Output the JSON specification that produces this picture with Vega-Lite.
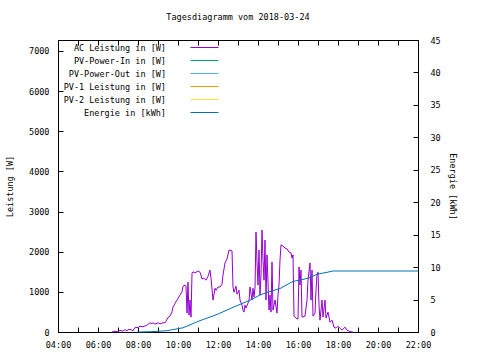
{
  "$schema": "https://vega.github.io/schema/vega-lite/v6.json",
  "width": 360,
  "height": 292,
  "autosize": {"type": "none"},
  "padding": {"left": 58, "top": 40, "right": 62, "bottom": 28},
  "background": "white",
  "title": {"text": "Tagesdiagramm vom 2018-03-24", "font": "DejaVu Sans Mono", "fontSize": 8.5, "fontWeight": "normal", "color": "black", "offset": 15, "anchor": "middle"},
  "config": {
    "view": {"stroke": "black", "strokeWidth": 1},
    "font": "DejaVu Sans Mono",
    "axis": {"labelFont": "DejaVu Sans Mono", "labelFontSize": 8.5, "labelColor": "black", "titleFont": "DejaVu Sans Mono", "titleFontSize": 8.5, "titleFontWeight": "normal", "titleColor": "black", "ticks": true, "tickColor": "black", "tickWidth": 1, "tickOpacity": 1, "domain": false, "grid": false, "tickSize": -5, "labelOverlap": false}
  },
  "datasets": {
    "ac": [
      {"stunde": 6.7, "serie": "AC Leistung in [W]", "wert": 0},
      {"stunde": 6.85, "serie": "AC Leistung in [W]", "wert": 20},
      {"stunde": 7.0, "serie": "AC Leistung in [W]", "wert": 5},
      {"stunde": 7.1, "serie": "AC Leistung in [W]", "wert": 40},
      {"stunde": 7.25, "serie": "AC Leistung in [W]", "wert": 20},
      {"stunde": 7.35, "serie": "AC Leistung in [W]", "wert": 60},
      {"stunde": 7.45, "serie": "AC Leistung in [W]", "wert": 25},
      {"stunde": 7.5, "serie": "AC Leistung in [W]", "wert": 60},
      {"stunde": 7.65, "serie": "AC Leistung in [W]", "wert": 60},
      {"stunde": 7.75, "serie": "AC Leistung in [W]", "wert": 30},
      {"stunde": 7.85, "serie": "AC Leistung in [W]", "wert": 110},
      {"stunde": 8.0, "serie": "AC Leistung in [W]", "wert": 110},
      {"stunde": 8.1, "serie": "AC Leistung in [W]", "wert": 145},
      {"stunde": 8.25, "serie": "AC Leistung in [W]", "wert": 130},
      {"stunde": 8.45, "serie": "AC Leistung in [W]", "wert": 170},
      {"stunde": 8.6, "serie": "AC Leistung in [W]", "wert": 230},
      {"stunde": 8.7, "serie": "AC Leistung in [W]", "wert": 210},
      {"stunde": 8.75, "serie": "AC Leistung in [W]", "wert": 230},
      {"stunde": 8.85, "serie": "AC Leistung in [W]", "wert": 195},
      {"stunde": 9.0, "serie": "AC Leistung in [W]", "wert": 230},
      {"stunde": 9.1, "serie": "AC Leistung in [W]", "wert": 200},
      {"stunde": 9.25, "serie": "AC Leistung in [W]", "wert": 230},
      {"stunde": 9.35, "serie": "AC Leistung in [W]", "wert": 230},
      {"stunde": 9.4, "serie": "AC Leistung in [W]", "wert": 270},
      {"stunde": 9.5, "serie": "AC Leistung in [W]", "wert": 360},
      {"stunde": 9.6, "serie": "AC Leistung in [W]", "wert": 395},
      {"stunde": 9.7, "serie": "AC Leistung in [W]", "wert": 500},
      {"stunde": 9.75, "serie": "AC Leistung in [W]", "wert": 620},
      {"stunde": 9.85, "serie": "AC Leistung in [W]", "wert": 710},
      {"stunde": 9.95, "serie": "AC Leistung in [W]", "wert": 795},
      {"stunde": 10.0, "serie": "AC Leistung in [W]", "wert": 835},
      {"stunde": 10.1, "serie": "AC Leistung in [W]", "wert": 920},
      {"stunde": 10.2, "serie": "AC Leistung in [W]", "wert": 1000},
      {"stunde": 10.25, "serie": "AC Leistung in [W]", "wert": 1140},
      {"stunde": 10.35, "serie": "AC Leistung in [W]", "wert": 1170},
      {"stunde": 10.4, "serie": "AC Leistung in [W]", "wert": 1140},
      {"stunde": 10.45, "serie": "AC Leistung in [W]", "wert": 470},
      {"stunde": 10.5, "serie": "AC Leistung in [W]", "wert": 1240},
      {"stunde": 10.55, "serie": "AC Leistung in [W]", "wert": 420},
      {"stunde": 10.6, "serie": "AC Leistung in [W]", "wert": 795},
      {"stunde": 10.65, "serie": "AC Leistung in [W]", "wert": 370},
      {"stunde": 10.7, "serie": "AC Leistung in [W]", "wert": 1460},
      {"stunde": 10.75, "serie": "AC Leistung in [W]", "wert": 1500},
      {"stunde": 10.85, "serie": "AC Leistung in [W]", "wert": 1470},
      {"stunde": 11.0, "serie": "AC Leistung in [W]", "wert": 1520},
      {"stunde": 11.1, "serie": "AC Leistung in [W]", "wert": 1490},
      {"stunde": 11.2, "serie": "AC Leistung in [W]", "wert": 1320},
      {"stunde": 11.3, "serie": "AC Leistung in [W]", "wert": 1340},
      {"stunde": 11.4, "serie": "AC Leistung in [W]", "wert": 1290},
      {"stunde": 11.5, "serie": "AC Leistung in [W]", "wert": 1390},
      {"stunde": 11.6, "serie": "AC Leistung in [W]", "wert": 1540},
      {"stunde": 11.65, "serie": "AC Leistung in [W]", "wert": 1340},
      {"stunde": 11.75, "serie": "AC Leistung in [W]", "wert": 795},
      {"stunde": 11.85, "serie": "AC Leistung in [W]", "wert": 1090},
      {"stunde": 11.9, "serie": "AC Leistung in [W]", "wert": 1040},
      {"stunde": 12.0, "serie": "AC Leistung in [W]", "wert": 1120},
      {"stunde": 12.1, "serie": "AC Leistung in [W]", "wert": 1120},
      {"stunde": 12.2, "serie": "AC Leistung in [W]", "wert": 1190},
      {"stunde": 12.25, "serie": "AC Leistung in [W]", "wert": 1420},
      {"stunde": 12.35, "serie": "AC Leistung in [W]", "wert": 1720},
      {"stunde": 12.45, "serie": "AC Leistung in [W]", "wert": 1820},
      {"stunde": 12.55, "serie": "AC Leistung in [W]", "wert": 2040},
      {"stunde": 12.7, "serie": "AC Leistung in [W]", "wert": 2020},
      {"stunde": 12.75, "serie": "AC Leistung in [W]", "wert": 1120},
      {"stunde": 12.8, "serie": "AC Leistung in [W]", "wert": 990},
      {"stunde": 12.9, "serie": "AC Leistung in [W]", "wert": 1140},
      {"stunde": 12.95, "serie": "AC Leistung in [W]", "wert": 940},
      {"stunde": 13.05, "serie": "AC Leistung in [W]", "wert": 1040},
      {"stunde": 13.1, "serie": "AC Leistung in [W]", "wert": 795},
      {"stunde": 13.2, "serie": "AC Leistung in [W]", "wert": 670},
      {"stunde": 13.25, "serie": "AC Leistung in [W]", "wert": 545},
      {"stunde": 13.3, "serie": "AC Leistung in [W]", "wert": 495},
      {"stunde": 13.35, "serie": "AC Leistung in [W]", "wert": 670},
      {"stunde": 13.4, "serie": "AC Leistung in [W]", "wert": 595},
      {"stunde": 13.5, "serie": "AC Leistung in [W]", "wert": 720},
      {"stunde": 13.55, "serie": "AC Leistung in [W]", "wert": 770},
      {"stunde": 13.6, "serie": "AC Leistung in [W]", "wert": 1120},
      {"stunde": 13.7, "serie": "AC Leistung in [W]", "wert": 795},
      {"stunde": 13.75, "serie": "AC Leistung in [W]", "wert": 1090},
      {"stunde": 13.8, "serie": "AC Leistung in [W]", "wert": 870},
      {"stunde": 13.85, "serie": "AC Leistung in [W]", "wert": 1090},
      {"stunde": 13.9, "serie": "AC Leistung in [W]", "wert": 2490},
      {"stunde": 13.95, "serie": "AC Leistung in [W]", "wert": 1740},
      {"stunde": 14.0, "serie": "AC Leistung in [W]", "wert": 1170},
      {"stunde": 14.05, "serie": "AC Leistung in [W]", "wert": 2040},
      {"stunde": 14.1, "serie": "AC Leistung in [W]", "wert": 920},
      {"stunde": 14.15, "serie": "AC Leistung in [W]", "wert": 1420},
      {"stunde": 14.2, "serie": "AC Leistung in [W]", "wert": 2540},
      {"stunde": 14.25, "serie": "AC Leistung in [W]", "wert": 1790},
      {"stunde": 14.3, "serie": "AC Leistung in [W]", "wert": 1290},
      {"stunde": 14.35, "serie": "AC Leistung in [W]", "wert": 2290},
      {"stunde": 14.4, "serie": "AC Leistung in [W]", "wert": 795},
      {"stunde": 14.45, "serie": "AC Leistung in [W]", "wert": 1920},
      {"stunde": 14.55, "serie": "AC Leistung in [W]", "wert": 545},
      {"stunde": 14.6, "serie": "AC Leistung in [W]", "wert": 920},
      {"stunde": 14.65, "serie": "AC Leistung in [W]", "wert": 495},
      {"stunde": 14.7, "serie": "AC Leistung in [W]", "wert": 1740},
      {"stunde": 14.75, "serie": "AC Leistung in [W]", "wert": 545},
      {"stunde": 14.85, "serie": "AC Leistung in [W]", "wert": 795},
      {"stunde": 14.95, "serie": "AC Leistung in [W]", "wert": 470},
      {"stunde": 15.0, "serie": "AC Leistung in [W]", "wert": 920},
      {"stunde": 15.05, "serie": "AC Leistung in [W]", "wert": 1170},
      {"stunde": 15.1, "serie": "AC Leistung in [W]", "wert": 1790},
      {"stunde": 15.15, "serie": "AC Leistung in [W]", "wert": 2170},
      {"stunde": 15.25, "serie": "AC Leistung in [W]", "wert": 2140},
      {"stunde": 15.35, "serie": "AC Leistung in [W]", "wert": 2090},
      {"stunde": 15.45, "serie": "AC Leistung in [W]", "wert": 2070},
      {"stunde": 15.55, "serie": "AC Leistung in [W]", "wert": 1990},
      {"stunde": 15.65, "serie": "AC Leistung in [W]", "wert": 1970},
      {"stunde": 15.7, "serie": "AC Leistung in [W]", "wert": 1840},
      {"stunde": 15.75, "serie": "AC Leistung in [W]", "wert": 1920},
      {"stunde": 15.8, "serie": "AC Leistung in [W]", "wert": 395},
      {"stunde": 15.9, "serie": "AC Leistung in [W]", "wert": 345},
      {"stunde": 16.0, "serie": "AC Leistung in [W]", "wert": 320},
      {"stunde": 16.05, "serie": "AC Leistung in [W]", "wert": 1620},
      {"stunde": 16.1, "serie": "AC Leistung in [W]", "wert": 1170},
      {"stunde": 16.15, "serie": "AC Leistung in [W]", "wert": 1540},
      {"stunde": 16.2, "serie": "AC Leistung in [W]", "wert": 370},
      {"stunde": 16.35, "serie": "AC Leistung in [W]", "wert": 395},
      {"stunde": 16.45, "serie": "AC Leistung in [W]", "wert": 795},
      {"stunde": 16.5, "serie": "AC Leistung in [W]", "wert": 1290},
      {"stunde": 16.6, "serie": "AC Leistung in [W]", "wert": 1720},
      {"stunde": 16.65, "serie": "AC Leistung in [W]", "wert": 795},
      {"stunde": 16.7, "serie": "AC Leistung in [W]", "wert": 1540},
      {"stunde": 16.75, "serie": "AC Leistung in [W]", "wert": 395},
      {"stunde": 16.85, "serie": "AC Leistung in [W]", "wert": 470},
      {"stunde": 16.9, "serie": "AC Leistung in [W]", "wert": 1040},
      {"stunde": 16.95, "serie": "AC Leistung in [W]", "wert": 1420},
      {"stunde": 17.0, "serie": "AC Leistung in [W]", "wert": 1490},
      {"stunde": 17.05, "serie": "AC Leistung in [W]", "wert": 670},
      {"stunde": 17.1, "serie": "AC Leistung in [W]", "wert": 295},
      {"stunde": 17.2, "serie": "AC Leistung in [W]", "wert": 795},
      {"stunde": 17.25, "serie": "AC Leistung in [W]", "wert": 370},
      {"stunde": 17.35, "serie": "AC Leistung in [W]", "wert": 795},
      {"stunde": 17.4, "serie": "AC Leistung in [W]", "wert": 345},
      {"stunde": 17.5, "serie": "AC Leistung in [W]", "wert": 495},
      {"stunde": 17.6, "serie": "AC Leistung in [W]", "wert": 245},
      {"stunde": 17.7, "serie": "AC Leistung in [W]", "wert": 295},
      {"stunde": 17.8, "serie": "AC Leistung in [W]", "wert": 120},
      {"stunde": 17.9, "serie": "AC Leistung in [W]", "wert": 95},
      {"stunde": 18.0, "serie": "AC Leistung in [W]", "wert": 145},
      {"stunde": 18.1, "serie": "AC Leistung in [W]", "wert": 95},
      {"stunde": 18.2, "serie": "AC Leistung in [W]", "wert": 45},
      {"stunde": 18.35, "serie": "AC Leistung in [W]", "wert": 120},
      {"stunde": 18.45, "serie": "AC Leistung in [W]", "wert": 45},
      {"stunde": 18.6, "serie": "AC Leistung in [W]", "wert": 10},
      {"stunde": 18.75, "serie": "AC Leistung in [W]", "wert": 0}
    ],
    "energie": [
      {"stunde": 7.95, "serie": "Energie in [kWh]", "wert": 0},
      {"stunde": 8.7, "serie": "Energie in [kWh]", "wert": 0.05},
      {"stunde": 9.45, "serie": "Energie in [kWh]", "wert": 0.2},
      {"stunde": 10.25, "serie": "Energie in [kWh]", "wert": 0.65},
      {"stunde": 11.1, "serie": "Energie in [kWh]", "wert": 1.75},
      {"stunde": 11.95, "serie": "Energie in [kWh]", "wert": 2.7},
      {"stunde": 12.75, "serie": "Energie in [kWh]", "wert": 3.8},
      {"stunde": 13.6, "serie": "Energie in [kWh]", "wert": 4.9},
      {"stunde": 14.1, "serie": "Energie in [kWh]", "wert": 5.7},
      {"stunde": 14.45, "serie": "Energie in [kWh]", "wert": 6.1},
      {"stunde": 15.1, "serie": "Energie in [kWh]", "wert": 6.7},
      {"stunde": 15.75, "serie": "Energie in [kWh]", "wert": 7.8},
      {"stunde": 16.25, "serie": "Energie in [kWh]", "wert": 8.1},
      {"stunde": 16.6, "serie": "Energie in [kWh]", "wert": 8.4},
      {"stunde": 16.95, "serie": "Energie in [kWh]", "wert": 8.9},
      {"stunde": 17.45, "serie": "Energie in [kWh]", "wert": 9.2},
      {"stunde": 17.75, "serie": "Energie in [kWh]", "wert": 9.4},
      {"stunde": 22.0, "serie": "Energie in [kWh]", "wert": 9.4}
    ]
  },
  "layer": [
    {
      "data": {"name": "ac"},
      "mark": {"type": "line", "strokeWidth": 1},
      "encoding": {
        "x": {"field": "stunde", "type": "quantitative",
          "scale": {"domain": [4, 22], "nice": false, "zero": false},
          "axis": {"title": null, "orient": "bottom", "values": [4,5,6,7,8,9,10,11,12,13,14,15,16,17,18,19,20,21,22], "labelPadding": 13, "labelExpr": "datum.value % 2 == 0 ? (datum.value < 10 ? '0' : '') + datum.value + ':00' : ''", "labelOverlap": false, "labelFlush": false}},
        "y": {"field": "wert", "type": "quantitative",
          "scale": {"domain": [0, 7270], "nice": false},
          "axis": {"title": "Leistung [W]", "orient": "left", "values": [0, 1000, 2000, 3000, 4000, 5000, 6000, 7000], "format": "d", "labelPadding": 14, "titlePadding": 14}},
        "color": {"field": "serie", "type": "nominal",
          "scale": {"domain": ["AC Leistung in [W]", "PV-Power-In in [W]", "PV-Power-Out in [W]", "PV-1 Leistung in [W]", "PV-2 Leistung in [W]", "Energie in [kWh]"],
                    "range": ["#9400d3", "#009e73", "#56b4e9", "#e69f00", "#f0e442", "#0072b2"]},
          "legend": {"title": null, "orient": "none", "legendX": 138, "legendY": -1, "symbolType": "M-1.75,0H1.75", "symbolSize": 256, "symbolStrokeWidth": 1, "symbolFillColor": "transparent", "labelAlign": "right", "labelOffset": -47, "labelFont": "DejaVu Sans Mono", "labelFontSize": 8.5, "labelColor": "black", "rowPadding": 0, "padding": 0,
            "encode": {"symbols": {"update": {"stroke": {"scale": "color", "field": "value"}, "strokeWidth": {"value": 1}, "opacity": {"value": 1}}}}}}
      }
    },
    {
      "data": {"name": "energie"},
      "mark": {"type": "line", "strokeWidth": 1},
      "encoding": {
        "x": {"field": "stunde", "type": "quantitative",
          "axis": {"title": null, "orient": "top", "values": [4,5,6,7,8,9,10,11,12,13,14,15,16,17,18,19,20,21,22], "labels": false}},
        "y": {"field": "wert", "type": "quantitative",
          "scale": {"domain": [0, 45], "nice": false},
          "axis": {"title": "Energie [kWh]", "orient": "right", "values": [0, 5, 10, 15, 20, 25, 30, 35, 40, 45], "labelPadding": 17, "titlePadding": 7}},
        "color": {"field": "serie", "type": "nominal"}
      }
    }
  ],
  "resolve": {"scale": {"y": "independent"}, "axis": {"x": "independent"}}
}
